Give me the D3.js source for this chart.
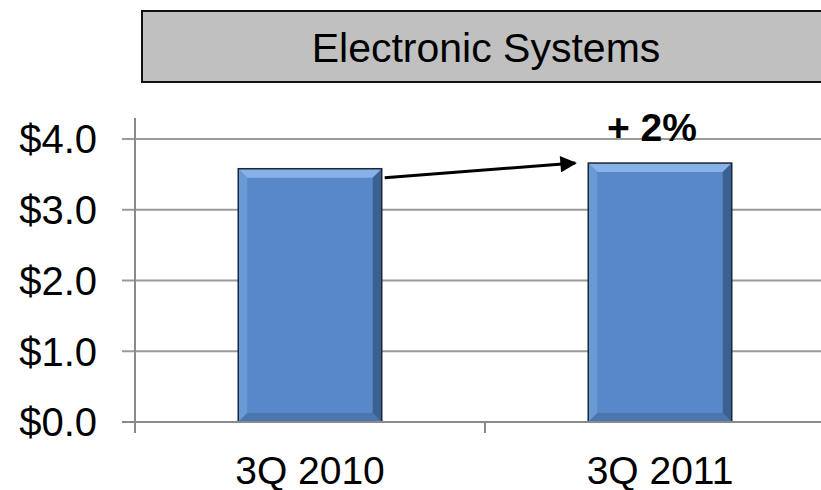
<!DOCTYPE html>
<html lang="en">
<head>
    <meta charset="utf-8">
    <title>Electronic Systems</title>
    <script src="https://d3js.org/d3.v7.min.js"></script>
    <style type="text/css">
        body { margin: 0; background: white; }
        text { font-family: "Liberation Sans", Arial, sans-serif; fill: #000; }
    </style>
</head>
<body>
    <div id="main"></div>
    <script type="text/javascript">
        var categories = ["3Q 2010", "3Q 2011"];
        var values = [3.58, 3.66];
        var yTicks = [0, 1, 2, 3, 4];
        var title = "Electronic Systems";
        var changeLabel = "+ 2%";

        var width = 821, height = 490;

        var svg = d3.select("div#main")
                    .append("svg")
                    .attr("width", width)
                    .attr("height", height)

        var x = d3.scaleBand().domain(categories).range([135, 835])
            .paddingInner(0.59).paddingOuter(0.295)
        var y = d3.scaleLinear().domain([0, 4]).range([422, 139])

        // title box
        svg.append("rect")
            .attr("x", 142).attr("y", 11)
            .attr("width", 700).attr("height", 71)
            .attr("fill", "#c0c0c0")
            .attr("stroke", "#111")
            .attr("stroke-width", 2)
        svg.append("text")
            .attr("x", 486).attr("y", 62)
            .attr("text-anchor", "middle")
            .style("font-size", "41px")
            .text(title)

        // gridlines + y ticks
        svg.append("g").selectAll("line")
            .data(yTicks.filter(function(d){ return d > 0 }))
            .enter().append("line")
            .attr("x1", 122).attr("x2", width)
            .attr("y1", function(d){ return y(d) }).attr("y2", function(d){ return y(d) })
            .attr("stroke", "#9a9a9a").attr("stroke-width", 2)

        svg.append("g").selectAll("text")
            .data(yTicks)
            .enter().append("text")
            .attr("x", 97)
            .attr("y", function(d){ return y(d) })
            .attr("dy", "0.36em")
            .attr("text-anchor", "end")
            .style("font-size", "40px")
            .text(function(d){ return "$" + d.toFixed(1) })

        // bars with bevel
        var b = 9
        var bars = svg.append("g").selectAll("g")
            .data(categories)
            .enter().append("g")
            .attr("transform", function(d, i){ return "translate(" + x(d) + "," + y(values[i]) + ")" })

        bars.each(function(d, i){
            var g = d3.select(this)
            var w = x.bandwidth(), h = y(0) - y(values[i])
            g.append("rect").attr("width", w).attr("height", h).attr("fill", "#5888c7")
            // top bevel
            g.append("path").attr("d", "M0,0 L" + w + ",0 L" + (w - b) + "," + b + " L" + b + "," + b + "Z")
                .attr("fill", "#86b2e9")
            // left bevel
            g.append("path").attr("d", "M0,0 L" + b + "," + b + " L" + b + "," + (h - b) + " L0," + h + "Z")
                .attr("fill", "#6a9ad6")
            // right bevel
            g.append("path").attr("d", "M" + w + ",0 L" + w + "," + h + " L" + (w - b) + "," + (h - b) + " L" + (w - b) + "," + b + "Z")
                .attr("fill", "#3a6192")
            // bottom bevel
            g.append("path").attr("d", "M0," + h + " L" + b + "," + (h - b) + " L" + (w - b) + "," + (h - b) + " L" + w + "," + h + "Z")
                .attr("fill", "#4a76ad")
            g.append("rect").attr("width", w).attr("height", h)
                .attr("fill", "none").attr("stroke", "#1b2839").attr("stroke-width", 1.5)
        })

        // axes
        svg.append("line")
            .attr("x1", 135).attr("x2", 135).attr("y1", 118).attr("y2", 433)
            .attr("stroke", "#8a8a8a").attr("stroke-width", 2)
        svg.append("line")
            .attr("x1", 122).attr("x2", width).attr("y1", y(0)).attr("y2", y(0))
            .attr("stroke", "#8a8a8a").attr("stroke-width", 2)
        svg.append("g").selectAll("line")
            .data([0, 1, 2])
            .enter().append("line")
            .attr("x1", function(d){ return 135 + d * x.step() })
            .attr("x2", function(d){ return 135 + d * x.step() })
            .attr("y1", y(0)).attr("y2", 433)
            .attr("stroke", "#8a8a8a").attr("stroke-width", 2)

        svg.append("g").selectAll("text")
            .data(categories)
            .enter().append("text")
            .attr("x", function(d){ return x(d) + x.bandwidth() / 2 })
            .attr("y", 484)
            .attr("text-anchor", "middle")
            .style("font-size", "39px")
            .text(function(d){ return d })

        // growth arrow
        svg.append("defs").append("marker")
            .attr("id", "head")
            .attr("viewBox", "0 0 10 10")
            .attr("refX", 9).attr("refY", 5)
            .attr("markerWidth", 6).attr("markerHeight", 5.5)
            .attr("orient", "auto")
            .append("path").attr("d", "M0,0 L10,5 L0,10 Z").attr("fill", "#000")

        var x0 = x(categories[0]) + x.bandwidth() + 3
        var x1 = x(categories[1]) - 13
        svg.append("line")
            .attr("x1", x0).attr("y1", y(values[0]) + 9)
            .attr("x2", x1).attr("y2", y(values[1]))
            .attr("stroke", "#000").attr("stroke-width", 3)
            .attr("marker-end", "url(#head)")

        svg.append("text")
            .attr("x", 652).attr("y", 141)
            .attr("text-anchor", "middle")
            .style("font-size", "39px")
            .style("font-weight", "bold")
            .text(changeLabel)
    </script>
</body>
</html>
